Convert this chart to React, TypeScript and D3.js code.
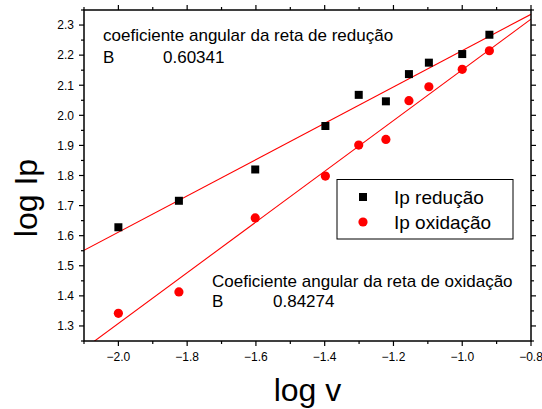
import React from "react";
import * as d3 from "d3";

// log of scan rate (V/s)
const logV = [-2.0, -1.824, -1.602, -1.398, -1.301, -1.222, -1.155, -1.097, -1.0, -0.921];
// log of peak currents
const logIpReducao = [1.628, 1.716, 1.82, 1.9645, 2.068, 2.0465, 2.137, 2.175, 2.2036, 2.2678];
const logIpOxidacao = [1.342, 1.413, 1.659, 1.798, 1.901, 1.92, 2.0485, 2.095, 2.153, 2.2146];

// fitted slopes
const slopeReducao = 0.60341;
const slopeOxidacao = 0.84274;

const xMajorTicks = [-2.0, -1.8, -1.6, -1.4, -1.2, -1.0, -0.8];
const xMinorTicks = [-2.1, -1.9, -1.7, -1.5, -1.3, -1.1, -0.9];
const yMajorTicks = [1.3, 1.4, 1.5, 1.6, 1.7, 1.8, 1.9, 2.0, 2.1, 2.2, 2.3];
const yMinorTicks = [1.25, 1.35, 1.45, 1.55, 1.65, 1.75, 1.85, 1.95, 2.05, 2.15, 2.25, 2.35];

const W = 542;
const H = 409;
const left = 84;
const right = 531;
const top = 10;
const bottom = 341;
const FONT = "'Liberation Sans', Arial, Helvetica, sans-serif";

function intercept(xs: number[], ys: number[], b: number) {
  return d3.mean(ys)! - b * d3.mean(xs)!;
}

export default function App() {
  const x = d3.scaleLinear().domain([-2.1, -0.8]).range([left, right]);
  const y = d3.scaleLinear().domain([1.25, 2.35]).range([bottom, top]);

  const aRed = intercept(logV, logIpReducao, slopeReducao);
  const aOx = intercept(logV, logIpOxidacao, slopeOxidacao);
  const line = d3
    .line<number>()
    .x((d) => x(d))
    .y((d) => y(d));
  const xs = x.domain();
  const fitRed = line.y((d) => y(aRed + slopeReducao * d))(xs) as string;
  const fitOx = line.y((d) => y(aOx + slopeOxidacao * d))(xs) as string;

  const sq = 8;
  const fmt = d3.format(".1f");

  return (
    <svg
      width={W}
      height={H}
      style={{ position: "absolute", left: 0, top: 0, background: "#fff" }}
      fontFamily={FONT}
    >
      <defs>
        <clipPath id="plot-area">
          <rect x={left} y={top} width={right - left} height={bottom - top} />
        </clipPath>
      </defs>

      {/* fitted lines */}
      <g clipPath="url(#plot-area)" fill="none" stroke="#ff0000" strokeWidth={1.1}>
        <path d={fitRed} />
        <path d={fitOx} />
      </g>

      {/* data points */}
      <g fill="#000">
        {logV.map((v, i) => (
          <rect key={"r" + i} x={x(v) - sq / 2} y={y(logIpReducao[i]) - sq / 2} width={sq} height={sq} />
        ))}
      </g>
      <g fill="#ff0000">
        {logV.map((v, i) => (
          <circle key={"o" + i} cx={x(v)} cy={y(logIpOxidacao[i])} r={4.6} />
        ))}
      </g>

      {/* frame */}
      <rect x={left} y={top} width={right - left} height={bottom - top} fill="none" stroke="#000" strokeWidth={1.5} />

      {/* ticks */}
      <g stroke="#000" strokeWidth={1.2}>
        {xMajorTicks.map((t) => (
          <g key={"xm" + t}>
            <line x1={x(t)} x2={x(t)} y1={bottom} y2={bottom + 5} />
            <line x1={x(t)} x2={x(t)} y1={top} y2={top - 5} />
          </g>
        ))}
        {xMinorTicks.map((t) => (
          <g key={"xn" + t}>
            <line x1={x(t)} x2={x(t)} y1={bottom} y2={bottom + 3} />
            <line x1={x(t)} x2={x(t)} y1={top} y2={top - 3} />
          </g>
        ))}
        {yMajorTicks.map((t) => (
          <g key={"ym" + t}>
            <line x1={left} x2={left - 5} y1={y(t)} y2={y(t)} />
            <line x1={right} x2={right + 5} y1={y(t)} y2={y(t)} />
          </g>
        ))}
        {yMinorTicks.map((t) => (
          <g key={"yn" + t}>
            <line x1={left} x2={left - 3} y1={y(t)} y2={y(t)} />
            <line x1={right} x2={right + 3} y1={y(t)} y2={y(t)} />
          </g>
        ))}
      </g>

      {/* tick labels */}
      <g fontSize={12} fill="#000">
        {xMajorTicks.map((t) => (
          <text key={"xl" + t} x={x(t)} y={bottom + 20} textAnchor="middle">
            {fmt(t)}
          </text>
        ))}
        {yMajorTicks.map((t) => (
          <text key={"yl" + t} x={left - 10} y={y(t) + 4.3} textAnchor="end">
            {fmt(t)}
          </text>
        ))}
      </g>

      {/* axis titles */}
      <text x={(left + right) / 2} y={401} textAnchor="middle" fontSize={32}>
        log v
      </text>
      <text transform={`translate(37, ${198}) rotate(-90)`} textAnchor="middle" fontSize={32}>
        log Ip
      </text>

      {/* slope annotations */}
      <g fontSize={17} fill="#000">
        <text x={103} y={41}>coeficiente angular da reta de redução</text>
        <text x={103} y={63}>B</text>
        <text x={163} y={63}>{slopeReducao.toFixed(5)}</text>
        <text x={212} y={287}>Coeficiente angular da reta de oxidação</text>
        <text x={212} y={307}>B</text>
        <text x={273} y={307}>{slopeOxidacao.toFixed(5)}</text>
      </g>

      {/* legend */}
      <g>
        <rect x={337} y={179.5} width={176} height={59.5} fill="#fff" stroke="#000" strokeWidth={1} />
        <rect x={363 - sq / 2} y={197 - sq / 2} width={sq} height={sq} fill="#000" />
        <circle cx={363} cy={222} r={4.6} fill="#ff0000" />
        <text x={394} y={203.5} fontSize={19}>Ip redução</text>
        <text x={394} y={228.5} fontSize={19}>Ip oxidação</text>
      </g>
    </svg>
  );
}
